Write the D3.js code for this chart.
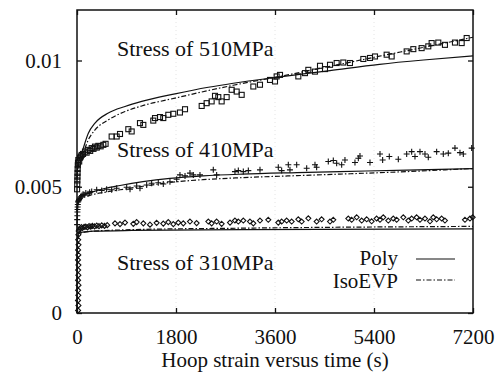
<!DOCTYPE html>
<html><head><meta charset="utf-8">
<script src="https://cdn.jsdelivr.net/npm/d3@7"></script>
<style>
html,body{margin:0;padding:0;background:#fff;}
svg{display:block;}
</style></head>
<body>
<svg id="c" width="501" height="372"></svg>
<script>
// ---- axis ticks ----
const xTicks = [0, 1800, 3600, 5400, 7200];
const yTicks = [0, 0.005, 0.01];
const yTickLabels = ["0", "0.005", "0.01"];
const xLabel = "Hoop strain versus time (s)";
const stressLabels = ["Stress of 510MPa", "Stress of 410MPa", "Stress of 310MPa"];
const legendNames = ["Poly", "IsoEVP"];

// ---- experimental data: [time s, strain x1e-3] ----
const exp510 = [
 [2,4.9],[4,5.1],[6,5.25],[8,5.4],[10,5.55],[12,5.7],[15,5.85],[18,5.95],[24,6.06],[40,6.0],[55,6.15],[70,6.2],
 [85,6.26],[110,6.3],[145,6.39],[175,6.35],[206,6.46],[240,6.42],[267,6.53],[300,6.5],[327,6.59],[360,6.55],[388,6.62],[430,6.6],[479,6.66],[520,6.7],
 [630,6.99],[721,6.99],[782,7.09],[933,7.28],[994,7.19],[1145,7.52],[1206,7.45],[1387,7.62],[1418,7.72],
 [1509,7.76],[1569,7.72],[1660,7.85],[1751,7.89],[1872,7.94],[1964,8.07],[2267,8.20],[2357,8.31],[2448,8.38],
 [2509,8.60],[2569,8.55],[2630,8.38],[2721,8.55],[2812,8.84],[2903,8.77],[2994,8.64],[3206,8.97],[3327,9.04],
 [3509,9.23],[3600,9.17],[3630,9.37],[3691,9.43],[4024,9.37],[4145,9.50],[4206,9.63],[4327,9.56],[4418,9.79],
 [4509,9.66],[4600,9.83],[4721,9.90],[4842,9.92],[4963,9.90],[5206,10.06],[5327,10.10],[5418,10.16],[5630,10.23],
 [5721,10.16],[5994,10.36],[6115,10.45],[6266,10.49],[6387,10.56],[6448,10.69],[6569,10.71],[6690,10.62],
 [6872,10.71],[6994,10.69],[7085,10.89]
];
const exp410 = [
 [2,3.5],[4,3.7],[6,3.85],[8,4.0],[10,4.1],[12,4.2],[15,4.3],[20,4.4],[30,4.45],[40,4.5],[55,4.55],[70,4.6],[90,4.65],
 [110,4.7],[130,4.68],[160,4.75],[200,4.72],[230,4.78],[267,4.81],[358,4.88],[449,4.85],[539,4.90],[630,4.88],
 [721,4.94],[903,4.98],[964,4.90],[1085,5.03],[1145,4.94],[1267,5.07],[1357,5.14],[1478,5.16],[1569,5.11],
 [1690,5.20],[1812,5.30],[1872,5.47],[1964,5.43],[2054,5.54],[2115,5.47],[2236,5.47],[2478,5.67],[2539,5.47],
 [2872,5.60],[2933,5.64],[3024,5.60],[3115,5.64],[3327,5.67],[3660,5.77],[3721,5.64],[3842,5.87],[3872,5.67],
 [3994,5.87],[4176,5.73],[4327,5.87],[4357,5.77],[4569,6.00],[4660,6.04],[4721,5.93],[4812,5.87],[4872,6.06],
 [5054,5.96],[5115,6.13],[5145,6.22],[5327,5.96],[5509,6.30],[5557,6.06],[5678,6.20],[5842,6.09],[5994,6.30],
 [6085,6.39],[6145,6.20],[6236,6.39],[6327,6.30],[6387,6.17],[6539,6.39],[6660,6.30],[6751,6.33],[6872,6.53],
 [6963,6.35],[7024,6.30],[7176,6.53]
];
const exp310 = [
 [20,0.1],[26,0.3],[18,0.5],[24,0.7],[20,0.9],[27,1.1],[19,1.3],[25,1.5],[21,1.7],[26,1.9],[18,2.1],[24,2.3],
 [20,2.5],[27,2.7],[22,2.9],[25,3.1],[30,3.25],[40,3.32],[60,3.36],[80,3.4],[100,3.37],[130,3.41],[160,3.42],
 [190,3.39],[220,3.44],[250,3.42],[280,3.45],[320,3.43],[360,3.46],[400,3.44],[450,3.47],[500,3.45],[550,3.48],
 [691,3.55],[782,3.52],[873,3.58],[1024,3.53],[1085,3.60],[1206,3.55],[1327,3.50],[1448,3.57],[1569,3.54],
 [1660,3.60],[1751,3.52],[1842,3.58],[1933,3.55],[2054,3.62],[2175,3.56],[2388,3.62],[2448,3.55],[2539,3.62],
 [2630,3.53],[2782,3.58],[2872,3.66],[2933,3.62],[3024,3.66],[3145,3.62],[3206,3.55],[3327,3.66],[3478,3.69],
 [3660,3.58],[3721,3.62],[3812,3.66],[3903,3.62],[4024,3.71],[4085,3.62],[4206,3.75],[4357,3.62],[4448,3.71],
 [4600,3.62],[4660,3.69],[4933,3.74],[4994,3.69],[5085,3.79],[5176,3.66],[5267,3.71],[5357,3.63],[5448,3.74],
 [5509,3.69],[5569,3.79],[5660,3.66],[5751,3.74],[5812,3.69],[5933,3.79],[6024,3.66],[6085,3.74],[6175,3.79],
 [6236,3.69],[6327,3.74],[6418,3.63],[6478,3.79],[6539,3.71],[6630,3.74],[6690,3.66],[7054,3.69],[7145,3.74],[7194,3.79]
];

// ---- model curves: [time s, strain x1e-3] ----
const poly510 = [[0,5.4],[10,5.75],[30,6.0],[85,6.33],[206,7.12],[327,7.52],[570,7.92],[873,8.18],[1176,8.38],[1782,8.68],[2388,8.94],[2842,9.10],[3690,9.35],[4600,9.6],[5500,9.85],[6300,10.02],[7200,10.18]];
const iso510  = [[0,5.3],[10,5.6],[30,5.85],[85,6.15],[206,6.86],[327,7.25],[570,7.65],[873,7.98],[1176,8.2],[1782,8.51],[2388,8.81],[2842,9.02],[3690,9.37],[4600,9.77],[5500,10.17],[6300,10.52],[7200,10.92]];
const poly410 = [[0,4.1],[10,4.35],[30,4.5],[100,4.65],[236,4.76],[500,4.93],[782,5.05],[1200,5.2],[1690,5.33],[2290,5.43],[3000,5.5],[4000,5.56],[4781,5.6],[6000,5.66],[7200,5.72]];
const iso410  = [[0,4.0],[10,4.25],[30,4.4],[100,4.55],[236,4.66],[500,4.78],[782,4.88],[1200,5.02],[1690,5.17],[2290,5.28],[3000,5.36],[4000,5.44],[4781,5.5],[6000,5.6],[7200,5.72]];
const poly310 = [[0,0],[3,1.5],[6,2.6],[10,3.0],[30,3.15],[100,3.2],[300,3.24],[1000,3.27],[3000,3.3],[7200,3.33]];
const iso310  = [[0,0],[3,1.4],[6,2.5],[10,2.95],[30,3.1],[100,3.18],[300,3.24],[1000,3.3],[3000,3.36],[7200,3.43]];

const FONT = "'Liberation Serif', 'Times New Roman', Times, 'DejaVu Serif', serif";
const svg = d3.select("#c");
const L = 77, R = 473, T = 10, B = 313;
const x = d3.scaleLinear().domain([0, 7200]).range([L, R]);
const y = d3.scaleLinear().domain([0, 0.012]).range([B, T]);
const yv = d => y(d * 1e-3);

// faint grid
const g0 = svg.append("g").attr("stroke", "#e4e4e4").attr("stroke-dasharray", "1,3").attr("stroke-width", 1);
xTicks.slice(1, -1).forEach(t => g0.append("line").attr("x1", x(t)).attr("x2", x(t)).attr("y1", T).attr("y2", B));

// axes with inward ticks
const ax = (gen, tr) => {
  const g = svg.append("g").attr("transform", tr).call(gen);
  g.attr("font-family", FONT).attr("font-size", 21);
  g.select(".domain").remove();
  g.selectAll("line").attr("stroke", "#111").attr("stroke-width", 1.3);
  g.selectAll("text").attr("font-family", FONT).attr("font-size", 21).attr("fill", "#111");
  return g;
};
ax(d3.axisBottom(x).tickValues(xTicks).tickSize(-5).tickPadding(16).tickFormat(d3.format("d")), `translate(0,${B})`);
ax(d3.axisTop(x).tickValues(xTicks).tickSize(-5).tickFormat(""), `translate(0,${T})`);
ax(d3.axisLeft(y).tickValues(yTicks).tickSize(-5).tickPadding(15).tickFormat((d, i) => yTickLabels[i]), `translate(${L},0)`);
ax(d3.axisRight(y).tickValues(yTicks).tickSize(-5).tickFormat(""), `translate(${R},0)`);

svg.append("rect").attr("x", L).attr("y", T).attr("width", R - L).attr("height", B - T)
  .attr("fill", "none").attr("stroke", "#111").attr("stroke-width", 1.5);

// model curves
const line = d3.line().x(d => x(d[0])).y(d => yv(d[1])).curve(d3.curveMonotoneX);
const dash = "5,2,1.5,2";
[[poly510, null], [iso510, dash], [poly410, null], [iso410, dash], [poly310, null], [iso310, dash]].forEach(([d, da]) => {
  svg.append("path").datum(d).attr("d", line).attr("fill", "none").attr("stroke", "#111")
    .attr("stroke-width", 1.2).attr("stroke-dasharray", da);
});

// markers
const mk = svg.append("g").attr("fill", "none").attr("stroke", "#111").attr("stroke-width", 1.1);
mk.selectAll(".sq").data(exp510).join("rect").attr("x", d => x(d[0]) - 2.5).attr("y", d => yv(d[1]) - 2.5)
  .attr("width", 5).attr("height", 5);
mk.selectAll(".pl").data(exp410).join("path")
  .attr("d", d => `M${x(d[0]) - 3},${yv(d[1])}h6M${x(d[0])},${yv(d[1]) - 3}v6`);
mk.selectAll(".dm").data(exp310).join("path")
  .attr("d", d => { const cx = x(d[0]), cy = yv(d[1]); return `M${cx},${cy - 2.5}L${cx + 2.5},${cy}L${cx},${cy + 2.5}L${cx - 2.5},${cy}Z`; });

// labels
const lab = (t, xx, yy, anchor, fs) => svg.append("text").attr("x", xx).attr("y", yy)
  .attr("text-anchor", anchor || "start").attr("font-family", FONT).attr("font-size", fs || 22).attr("fill", "#111").text(t);
lab(stressLabels[0], 117, 56);
lab(stressLabels[1], 117, 157);
lab(stressLabels[2], 117, 270);
lab(xLabel, 275, 367, "middle", 21);

// legend
lab(legendNames[0], 398, 265, "end", 21);
lab(legendNames[1], 398, 288, "end", 21);
svg.append("line").attr("x1", 416).attr("x2", 455).attr("y1", 259).attr("y2", 259).attr("stroke", "#111").attr("stroke-width", 1.2);
svg.append("line").attr("x1", 416).attr("x2", 455).attr("y1", 280).attr("y2", 280).attr("stroke", "#111").attr("stroke-width", 1.2).attr("stroke-dasharray", dash);
</script>
</body></html>
